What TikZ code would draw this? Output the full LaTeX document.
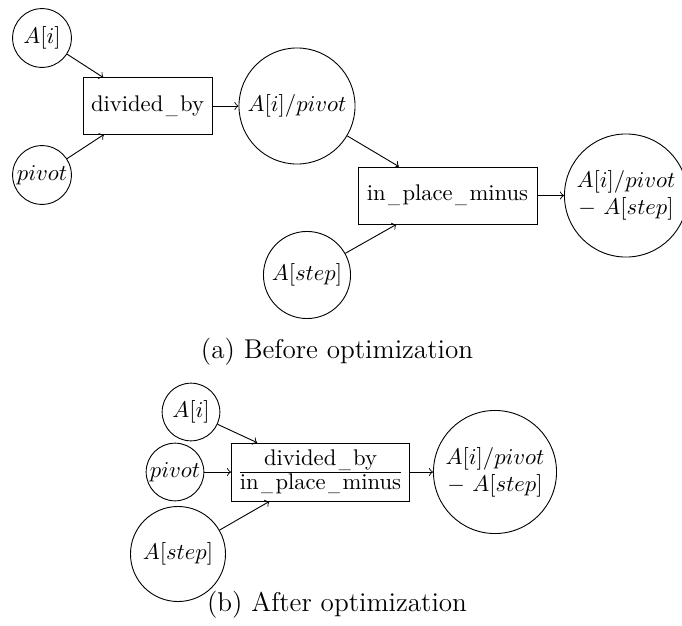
\documentclass[tikz,border=0pt]{standalone}
\usepackage{amsmath}
\usepackage{graphicx}
\newcommand\usc{\makebox[7.4pt]{\raisebox{-0.8pt}{\scalebox{0.7}[1]{\_}}}}
\begin{document}
\begin{tikzpicture}[x=0.442pt,y=-0.442pt,
  every node/.style={font=\fontsize{10}{12}\selectfont},
  val/.style={draw,circle,inner sep=0pt,minimum size=#1},
  opbox/.style={draw,rectangle,inner sep=0pt},
  flow/.style={->}]
\useasboundingbox (0,0) rectangle (682,625);
% (a)
\node[val=26pt] (a1) at (42,38) {$A[i]$};
\node[val=26pt] (a2) at (42,175) {$pivot$};
\node[opbox,minimum width=57pt,minimum height=24.8pt] (a3) at (147.5,106) {divided\usc by};
\node[val=51.3pt] (a4) at (297,106) {$A[i]/pivot$};
\node[opbox,minimum width=79.1pt,minimum height=25.2pt] (a5) at (447.5,195.5) {in\usc place\usc minus};
\node[val=38.5pt] (a6) at (307,275) {$A[step]$};
\node[val=54.4pt,align=center] (a7) at (626,195.5) {$A[i]/pivot$\\$-$ $A[step]$};
\node (capa) at (337,352) {\large (a) Before optimization};
\draw[flow] (a1) -- (a3);
\draw[flow] (a2) -- (a3);
\draw[flow] (a3) -- (a4);
\draw[flow] (a4) -- (a5);
\draw[flow] (a6) -- (a5);
\draw[flow] (a5) -- (a7);
% (b)
\node[val=25.5pt] (b1) at (191,412) {$A[i]$};
\node[val=25.5pt] (b2) at (175,472) {$pivot$};
\node[val=42pt] (b3) at (178,554) {$A[step]$};
\node[opbox,minimum width=78.7pt,minimum height=25.6pt] (b4) at (320.5,472) {$\genfrac{}{}{}{1}{\mbox{divided\usc by}}{\mbox{in\usc place\usc minus}}$};
\node[val=54.4pt,align=center] (b5) at (495,472) {$A[i]/pivot$\\$-$ $A[step]$};
\node (capb) at (337,605) {\large (b) After optimization};
\draw[flow] (b1) -- (b4);
\draw[flow] (b2) -- (b4);
\draw[flow] (b3) -- (b4);
\draw[flow] (b4) -- (b5);
\end{tikzpicture}
\end{document}
